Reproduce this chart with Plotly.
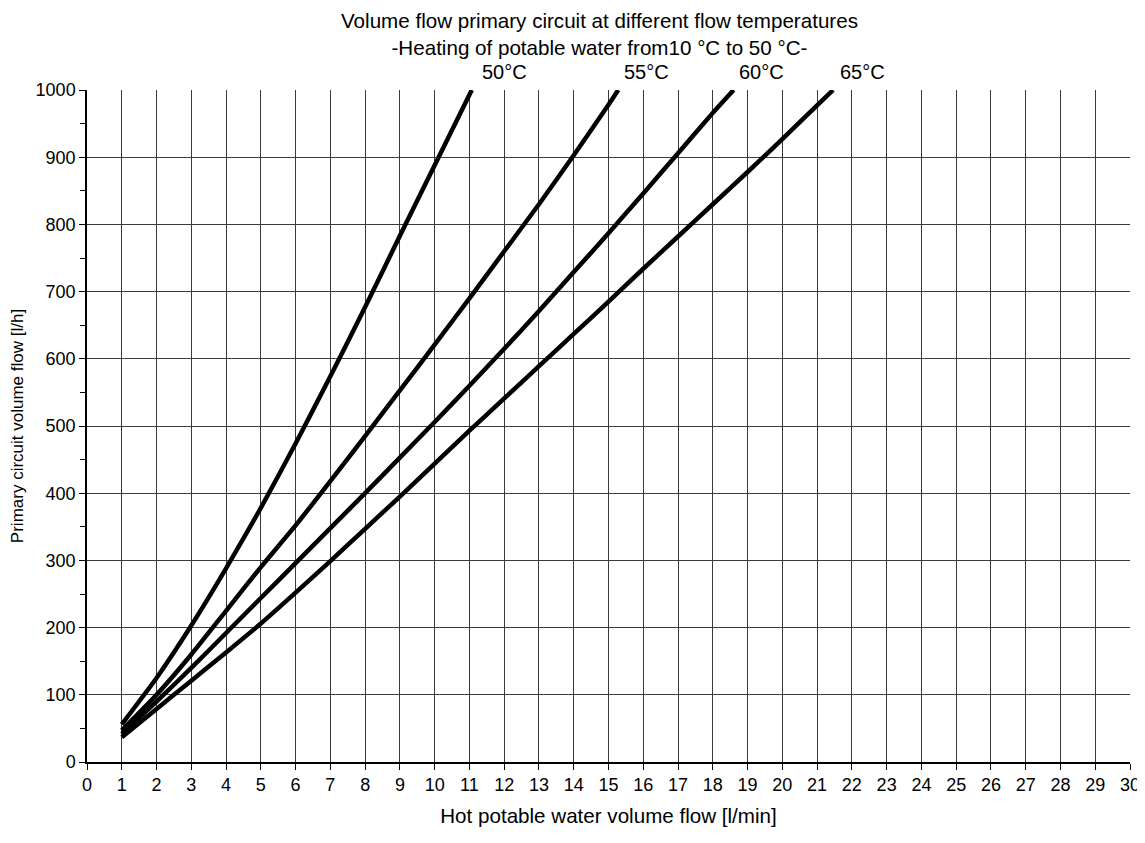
import plotly.graph_objects as go

# Hot potable water volume flow [l/min] vs primary circuit volume flow [l/h]
x50 = [1, 2, 3, 4, 5, 6, 7, 8, 9, 10, 11, 11.07]
y50 = [56, 125, 203, 288, 378, 474, 574, 677, 783, 888, 993, 1000]

x55 = [1, 2, 3, 4, 5, 6, 7, 8, 9, 10, 11, 12, 13, 14, 15, 15.28]
y55 = [47, 100, 160, 225, 290, 352, 418, 485, 553, 621, 690, 760, 830, 903, 978, 1000]

x60 = [1, 2, 3, 4, 5, 6, 7, 8, 9, 10, 11, 12, 13, 14, 15, 16, 17, 18, 18.6]
y60 = [42, 90, 140, 192, 244, 296, 348, 400, 453, 506, 560, 615, 671, 729, 787, 846, 906, 966, 1000]

x65 = [1, 2, 3, 4, 5, 6, 7, 8, 9, 10, 11, 12, 13, 14, 15, 16, 17, 18, 19, 20, 21, 21.46]
y65 = [37, 79, 121, 163, 206, 252, 299, 347, 395, 444, 493, 541, 589, 637, 685, 734, 782, 830, 878, 927, 977, 1000]

series = [("50°C", x50, y50), ("55°C", x55, y55), ("60°C", x60, y60), ("65°C", x65, y65)]
label_x = [12.0, 16.1, 19.4, 22.3]

FONT = "Liberation Sans, Arial, sans-serif"

fig = go.Figure()
for name, xs, ys in series:
    fig.add_trace(go.Scatter(x=xs, y=ys, mode="lines", name=name,
                             line=dict(color="black", width=4.5, shape="spline", smoothing=0.5),
                             showlegend=False, cliponaxis=True))

for (name, _, _), lx in zip(series, label_x):
    fig.add_annotation(x=lx, y=1.027, xref="x", yref="paper", text=name, showarrow=False,
                       xanchor="center", yanchor="middle",
                       font=dict(size=20, color="black", family=FONT))

fig.add_annotation(
    text="Volume flow primary circuit at different flow temperatures<br>-Heating of potable water from10 °C to 50 °C-",
    xref="paper", yref="paper", x=0.491, y=1.0826, xanchor="center", yanchor="middle",
    showarrow=False, font=dict(size=20.6, family=FONT, color="black"))

fig.update_layout(
    width=1145, height=843,
    margin=dict(l=78.5, r=23, t=82, b=89, autoexpand=False),
    paper_bgcolor="white", plot_bgcolor="white",
    font=dict(family=FONT, size=18, color="black"),
    showlegend=False,
)

fig.update_xaxes(range=[0, 30], tickmode="linear", tick0=0, dtick=1,
                 showgrid=True, gridcolor="#3a3a3a", gridwidth=1,
                 showline=True, linecolor="black", linewidth=1.5,
                 ticks="outside", ticklen=6, tickcolor="black",
                 zeroline=False, mirror=False, automargin=False,
                 title=dict(text="Hot potable water volume flow [l/min]", standoff=14,
                            font=dict(size=20.6, family=FONT)),
                 tickfont=dict(size=18, family=FONT))
fig.update_yaxes(range=[0, 1000], tickmode="linear", tick0=0, dtick=100,
                 showgrid=True, gridcolor="#3a3a3a", gridwidth=1,
                 showline=True, linecolor="black", linewidth=1.5,
                 ticks="outside", ticklen=6, tickcolor="black",
                 minor=dict(dtick=50, ticks="outside", ticklen=5, tickcolor="black", showgrid=False),
                 zeroline=False, automargin=False,
                 title=dict(text="Primary circuit volume flow [l/h]", standoff=8,
                            font=dict(size=17, family=FONT)),
                 tickfont=dict(size=18, family=FONT))

fig.write_html("out.html")
